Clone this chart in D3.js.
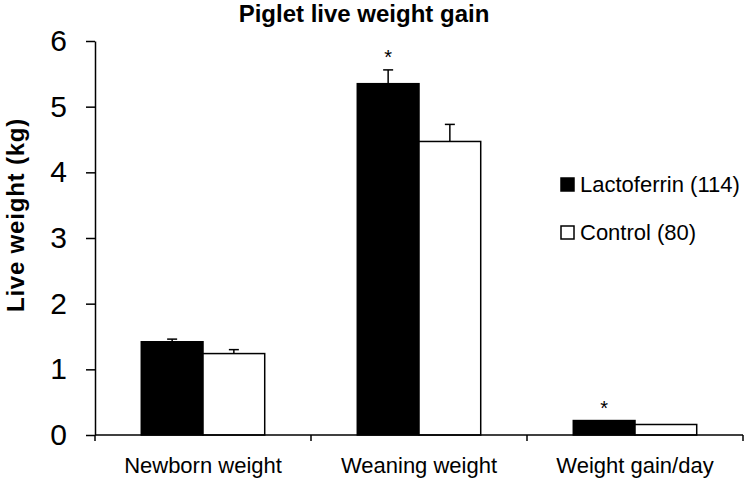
<!DOCTYPE html>
<html><head><meta charset="utf-8">
<script src="https://cdn.jsdelivr.net/npm/d3@7"></script>
<style>body{margin:0;background:#fff}svg{display:block;font-family:"Liberation Sans",Arial,sans-serif}</style>
</head><body><svg id="c" width="744" height="478"></svg>
<script>
const categories = ["Newborn weight", "Weaning weight", "Weight gain/day"];
const seriesNames = ["Lactoferrin (114)", "Control (80)"];
const seriesFill = ["#000000", "#ffffff"];
const lactoferrin = [1.42, 5.35, 0.22];
const control = [1.24, 4.47, 0.16];
const lactoferrinErr = [0.04, 0.21, 0];
const controlErr = [0.06, 0.26, 0];
const significant = [false, true, true]; // asterisk over Lactoferrin bar
const yTicks = [0, 1, 2, 3, 4, 5, 6];
const title = "Piglet live weight gain";
const yTitle = "Live weight (kg)";

const values = [lactoferrin, control];
const errs = [lactoferrinErr, controlErr];

const svg = d3.select("#c");
const M = {left: 95, right: 743, top: 41, bottom: 435};

const y = d3.scaleLinear().domain([0, 6]).range([M.bottom, M.top]);
const x0 = d3.scaleBand().domain(categories).range([M.left, M.right]).padding(0);
const x1 = d3.scaleBand().domain(seriesNames).range([0, x0.bandwidth()]).paddingInner(0).paddingOuter(0.75);

// title
svg.append("text").attr("x", 364).attr("y", 22).attr("text-anchor", "middle")
  .attr("font-weight", "bold").attr("font-size", 24).text(title);

// y title
svg.append("text").attr("transform", `translate(24,215) rotate(-90)`)
  .attr("text-anchor", "middle").attr("font-weight", "bold").attr("font-size", 24)
  .attr("letter-spacing", 0.8).text(yTitle);

// bars
categories.forEach((cat, ci) => {
  seriesNames.forEach((s, si) => {
    const v = values[si][ci];
    const bx = x0(cat) + x1(s);
    svg.append("rect").attr("x", bx).attr("y", y(v)).attr("width", x1.bandwidth())
      .attr("height", y(0) - y(v)).attr("fill", seriesFill[si])
      .attr("stroke", "#000").attr("stroke-width", 1.5);
    const e = errs[si][ci];
    if (e > 0) {
      const cx = bx + x1.bandwidth() / 2;
      svg.append("line").attr("x1", cx).attr("x2", cx).attr("y1", y(v)).attr("y2", y(v + e))
        .attr("stroke", "#000").attr("stroke-width", 1.5);
      svg.append("line").attr("x1", cx - 5).attr("x2", cx + 5).attr("y1", y(v + e)).attr("y2", y(v + e))
        .attr("stroke", "#000").attr("stroke-width", 1.5);
    }
  });
  if (significant[ci]) {
    const s = seriesNames[0];
    const cx = x0(cat) + x1(s) + x1.bandwidth() / 2;
    svg.append("text").attr("x", cx).attr("y", y(values[0][ci] + errs[0][ci]) - 6)
      .attr("text-anchor", "middle").attr("font-size", 20).text("*");
  }
});

// y axis
const yAxis = svg.append("g").attr("transform", `translate(${M.left},0)`)
  .call(d3.axisLeft(y).tickValues(yTicks).tickFormat(d3.format("d")).tickSize(9).tickPadding(19).tickSizeOuter(0));
yAxis.select(".domain").attr("stroke-width", 1.5);
yAxis.selectAll(".tick line").attr("stroke-width", 1.5);
yAxis.selectAll("text").attr("font-size", 30).attr("font-family", "Liberation Sans, Arial, sans-serif").attr("fill", "#000");

// x axis
svg.append("line").attr("x1", M.left).attr("x2", M.right).attr("y1", y(0)).attr("y2", y(0))
  .attr("stroke", "#000").attr("stroke-width", 1.5);
const bounds = categories.map(c => x0(c)).concat([x0(categories[categories.length - 1]) + x0.bandwidth()]);
bounds.forEach(b => {
  svg.append("line").attr("x1", b).attr("x2", b).attr("y1", y(0)).attr("y2", y(0) + 6)
    .attr("stroke", "#000").attr("stroke-width", 1.5);
});
categories.forEach(c => {
  svg.append("text").attr("x", x0(c) + x0.bandwidth() / 2).attr("y", 473)
    .attr("text-anchor", "middle").attr("font-size", 22).text(c);
});

// legend
seriesNames.forEach((s, i) => {
  const ly = 178 + i * 48;
  svg.append("rect").attr("x", 561).attr("y", ly).attr("width", 13).attr("height", 13)
    .attr("fill", seriesFill[i]).attr("stroke", "#000").attr("stroke-width", 1.5);
  svg.append("text").attr("x", 580).attr("y", ly + 14).attr("font-size", 22).text(s);
});
</script></body></html>
